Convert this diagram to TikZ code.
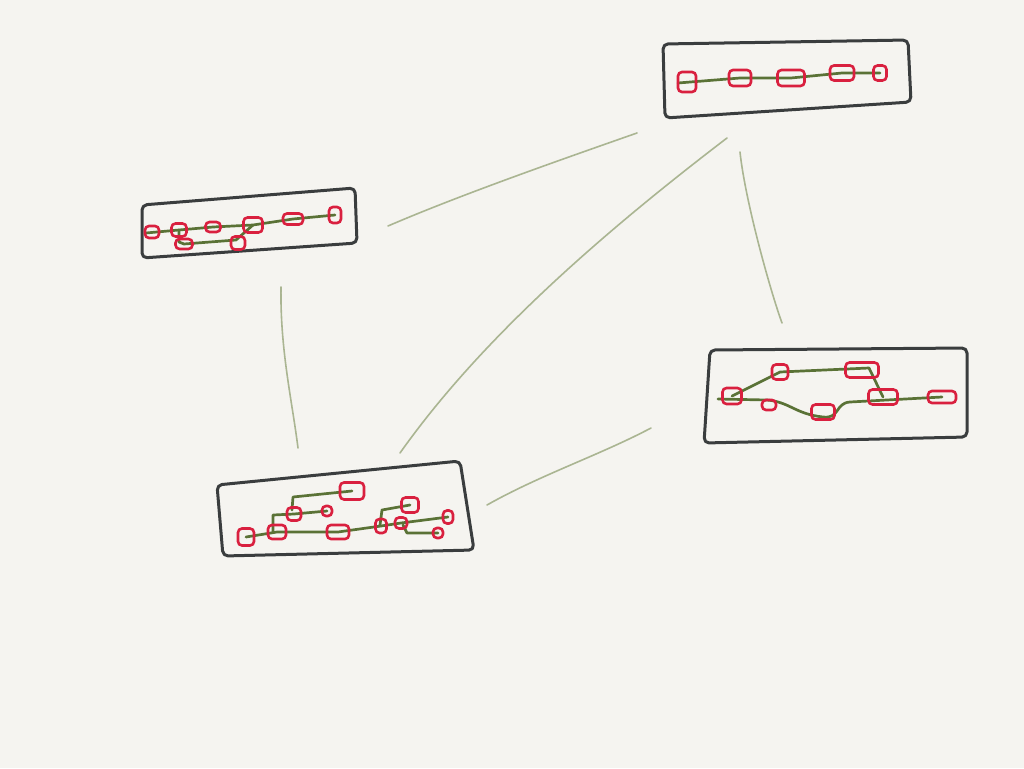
\documentclass[tikz,border=0pt]{standalone}
\usetikzlibrary{calc,backgrounds}
\definecolor{paper}{HTML}{F5F4F0}
\definecolor{frame}{HTML}{3A3D3E}
\definecolor{wire}{HTML}{5A7236}
\definecolor{part}{HTML}{D9203F}
\definecolor{link}{HTML}{AAB592}
\tikzset{
  boxline/.style={draw=frame,line width=3pt,rounded corners=5pt,line join=round},
  part/.style={draw=part,line width=2.6pt,rounded corners=4pt,minimum width=19pt,minimum height=16pt,inner sep=0pt},
  smallpart/.style={part,minimum width=13pt,minimum height=12pt},
  wire/.style={draw=wire,line width=2.7pt,line cap=round,line join=round},
  link/.style={draw=link,line width=1.6pt,line cap=round}
}
\begin{document}
\begin{tikzpicture}[x=1pt,y=-1pt]
\begin{scope}[on background layer]
\fill[paper] (0,0) rectangle (1024,768);
\end{scope}
\useasboundingbox (0,0) rectangle (1024,768);

% ---------- box A (top right)
\draw[boxline] (663,44) -- (908,40) -- (911,102) -- (665,118) -- cycle;
\node[part,minimum width=18pt,minimum height=20pt] (a1) at (687,82) {};
\node[part,minimum width=22pt] (a2) at (740,78) {};
\node[part,minimum width=27pt] (a3) at (791,78) {};
\node[part,minimum width=24pt,minimum height=15pt] (a4) at (842,73) {};
\node[smallpart,minimum height=15pt] (a5) at (880,73) {};
\begin{scope}[on background layer]
\draw[wire] ($(a1)+(-9,1)$) -- (a2.center) -- (a3.center) -- (a4.center) -- (a5.center);
\end{scope}

% ---------- box B (left)
\draw[boxline] (142,205) -- (355,188) -- (357,243) -- (142,258) -- cycle;
\node[smallpart,minimum width=14pt] (b1) at (152,232) {};
\node[smallpart,minimum width=15pt,minimum height=13pt] (b2) at (179,230) {};
\node[smallpart,minimum width=15pt,minimum height=10pt] (b3) at (213,227) {};
\node[part,minimum width=19pt,minimum height=15pt] (b4) at (253,225) {};
\node[part,minimum width=20pt,minimum height=11pt] (b5) at (293,219) {};
\node[smallpart,minimum width=12pt,minimum height=16pt] (b6) at (335,215) {};
\node[smallpart,minimum width=17pt,minimum height=10pt] (b7) at (184,244) {};
\node[smallpart,minimum width=14pt,minimum height=13pt] (b8) at (238,243) {};
\begin{scope}[on background layer]
\draw[wire] ($(b1)+(-6,1)$) -- (b2.center) -- (b3.center) -- (b4.center) -- (b5.center) -- (b6.center);
\draw[wire] (b2.center) -- ($(b2)+(0,12)$) -- (b7.center) -- (236,240) -- (b4.center);
\end{scope}

% ---------- box C (bottom left)
\draw[boxline] (217,485) -- (460,461) -- (474,550) -- (223,556) -- cycle;
\node[part,minimum width=16pt,minimum height=17pt] (c1) at (246,537) {};
\node[part,minimum width=18pt,minimum height=14pt] (c2) at (277,532) {};
\node[part,minimum width=24pt,minimum height=17pt] (c3) at (352,491) {};
\node[smallpart,minimum width=14pt,minimum height=13pt] (c4) at (294,514) {};
\node[smallpart,minimum width=10pt,minimum height=10pt] (c5) at (327,511) {};
\node[part,minimum width=22pt,minimum height=14pt] (c6) at (338,532) {};
\node[smallpart,minimum width=11pt,minimum height=14pt] (c7) at (381,526) {};
\node[smallpart,minimum width=12pt,minimum height=11pt] (c8) at (401,523) {};
\node[part,minimum width=17pt,minimum height=15pt] (c9) at (410,505) {};
\node[smallpart,minimum width=10pt,minimum height=13pt] (c10) at (448,517) {};
\node[smallpart,minimum width=10pt,minimum height=10pt] (c11) at (438,533) {};
\begin{scope}[on background layer]
\draw[wire] (c1.center) -- (c2.center) -- (c6.center) -- (c7.center) -- (c8.center) -- (c10.center);
\draw[wire] (273,532) -- (273,515) -- (c4.center) -- (c5.center);
\draw[wire] (292,510) -- (293,497) -- (c3.center);
\draw[wire] (380,525) -- (382,510) -- (c9.center);
\draw[wire] (403,525) -- (407,533) -- (c11.center);
\end{scope}

% ---------- box D (right)
\draw[boxline] (710,350) -- (967,348) -- (967,437) -- (704,443) -- cycle;
\node[part,minimum width=19pt,minimum height=16pt] (d1) at (732,396) {};
\node[part,minimum width=16pt,minimum height=15pt] (d2) at (780,372) {};
\node[part,minimum width=33pt,minimum height=15pt] (d3) at (862,370) {};
\node[smallpart,minimum width=14pt,minimum height=10pt] (d4) at (769,405) {};
\node[part,minimum width=23pt,minimum height=15pt] (d5) at (823,412) {};
\node[part,minimum width=29pt,minimum height=15pt] (d6) at (883,397) {};
\node[part,minimum width=28pt,minimum height=12pt] (d7) at (942,397) {};
\begin{scope}[on background layer]
\draw[wire] (718,399) -- (767,400) .. controls (790,402) and (795,414) .. (823,417)
  .. controls (840,419) and (835,403) .. (850,402) -- (d7.center);
\draw[wire] (d1.center) -- (d2.center) -- (869,368) -- (d6.center);
\end{scope}

% ---------- links between boxes
\coordinate (l1s) at (388,226); \coordinate (l1e) at (637,133);
\coordinate (l2s) at (727,138); \coordinate (l2e) at (400,453);
\coordinate (l3s) at (740,152); \coordinate (l3e) at (782,323);
\coordinate (l4s) at (281,287); \coordinate (l4e) at (298,448);
\coordinate (l5s) at (487,505); \coordinate (l5e) at (651,428);
\draw[link] (l1s) .. controls (460,195) and (560,160) .. (l1e);
\draw[link] (l2s) .. controls (600,235) and (480,340) .. (l2e);
\draw[link] (l3s) .. controls (745,200) and (770,290) .. (l3e);
\draw[link] (l4s) .. controls (280,350) and (292,400) .. (l4e);
\draw[link] (l5s) .. controls (540,475) and (600,455) .. (l5e);
\end{tikzpicture}
\end{document}
